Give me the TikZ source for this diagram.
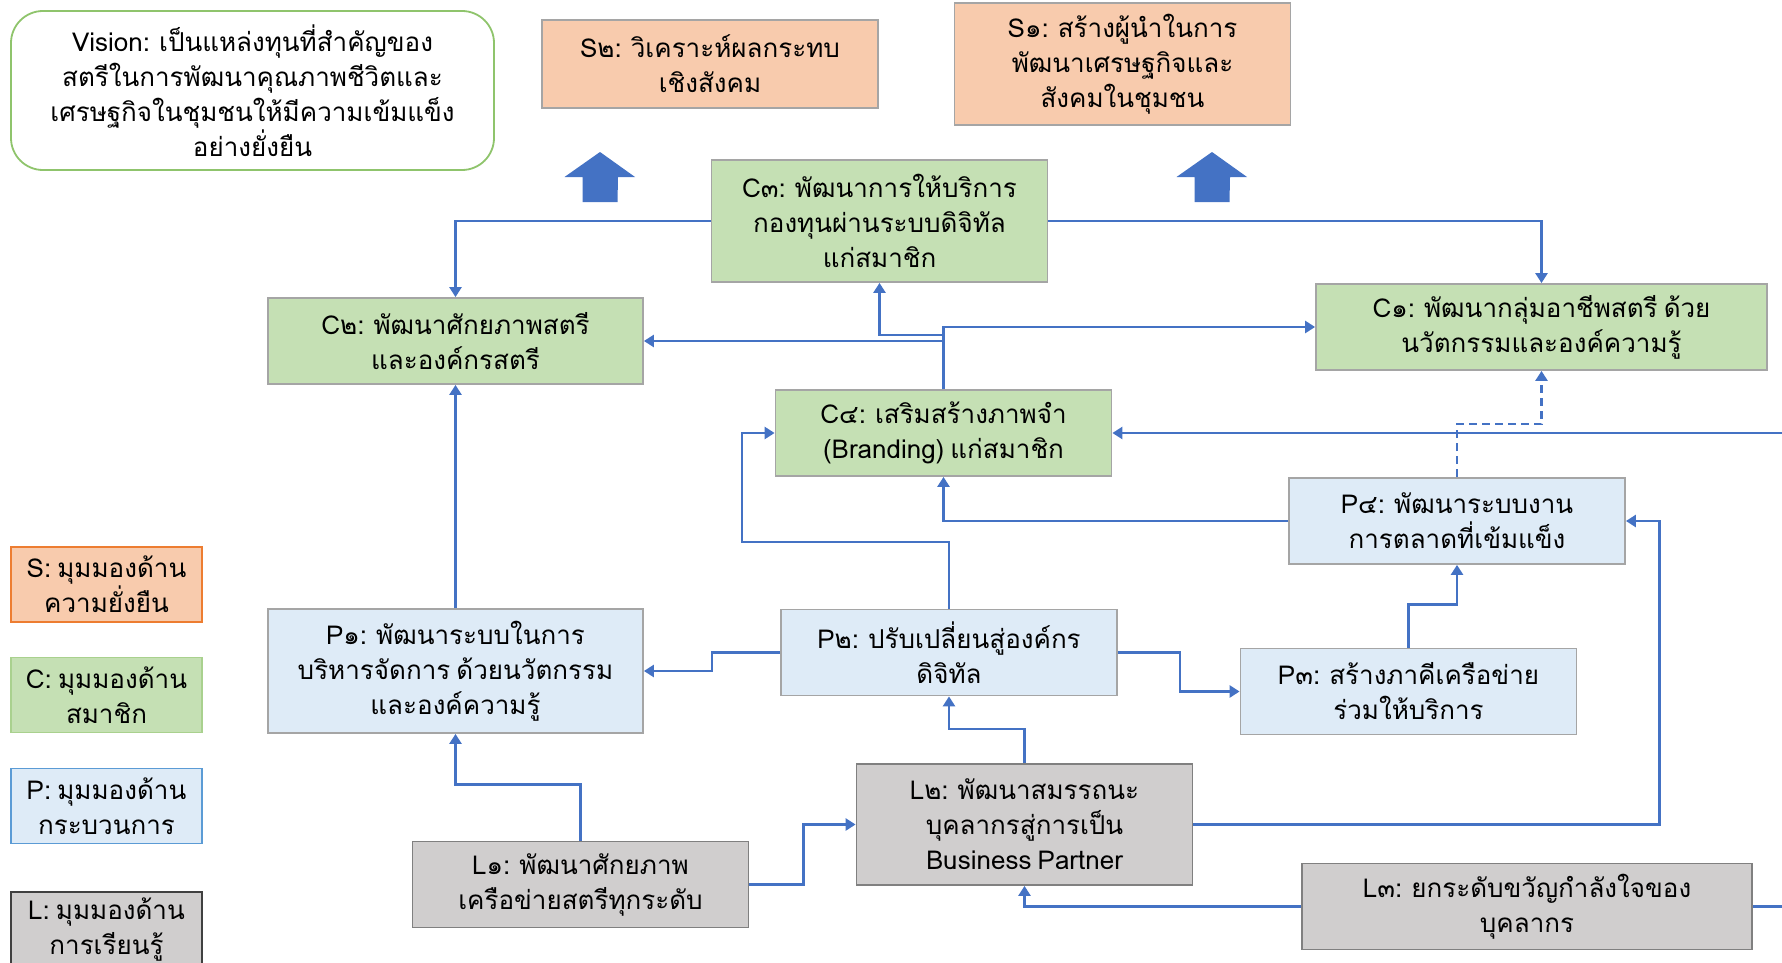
\documentclass[tikz,border=0pt]{standalone}
\usepackage{fontspec}
\newfontfamily\thaifont[Script=Thai,WordSpace=0.7]{Loma}
\usetikzlibrary{arrows.meta}
\definecolor{linkblue}{HTML}{4472C4}
\definecolor{sfill}{HTML}{F8CBAD}
\definecolor{cfill}{HTML}{C5E0B4}
\definecolor{pfill}{HTML}{DEEBF7}
\definecolor{lfill}{HTML}{D0CECE}
\definecolor{boxgray}{HTML}{A5A5A5}
\definecolor{lgray}{HTML}{808080}
\definecolor{sline}{HTML}{ED7D31}
\definecolor{cline}{HTML}{A9D18E}
\definecolor{pline}{HTML}{5B9BD5}
\definecolor{visline}{HTML}{8FC46C}

\begin{document}
\begin{tikzpicture}[x=0.5pt,y=-0.5pt,
	box/.style={draw=boxgray,line width=0.9pt,align=center,inner sep=0pt,minimum width=168pt,minimum height=43pt,yshift=0pt,font=\thaifont\fontsize{13}{17.5}\selectfont},
	sbox/.style={box,fill=sfill},
	cbox/.style={box,fill=cfill},
	pbox/.style={box,fill=pfill},
	lbox/.style={box,fill=lfill,draw=lgray},
	link/.style={linkblue,line width=1.3pt,-{Triangle[width=6pt,length=5pt]}}]
		\useasboundingbox (0,0) rectangle (1782,963);
		\node[box,draw=visline,rounded corners=16pt,minimum width=241.5pt,minimum height=79.5pt] (vision) at (252.5,90.5) {Vision: เป็นแหล่งทุนที่สำคัญของ\\สตรีในการพัฒนาคุณภาพชีวิตและ\\เศรษฐกิจในชุมชนให้มีความเข้มแข็ง\\อย่างยั่งยืน};
		\node[sbox,minimum height=44pt] (s2) at (710,64) {S๒: วิเคราะห์ผลกระทบ\\เชิงสังคม};
		\node[sbox,minimum height=61pt] (s1) at (1122.5,64) {S๑: สร้างผู้นำในการ\\พัฒนาเศรษฐกิจและ\\สังคมในชุมชน};
		\foreach \x in {600,1212} \fill[linkblue] (\x-17.5,202) -- ++(0,-25) -- ++(-18,0) -- (\x,152) -- (\x+35,177) -- ++(-17,0) -- (\x+17.5,202) -- cycle;
		\node[cbox,minimum height=61pt] (c3) at (879.5,221) {C๓: พัฒนาการให้บริการ\\กองทุนผ่านระบบดิจิทัล\\แก่สมาชิก};
		\node[cbox,minimum width=187.5pt] (c2) at (455.5,341) {C๒: พัฒนาศักยภาพสตรี\\และองค์กรสตรี};
		\node[cbox,minimum width=225.5pt] (c1) at (1541.5,327) {C๑: พัฒนากลุ่มอาชีพสตรี ด้วย\\นวัตกรรมและองค์ความรู้};
		\node[cbox] (c4) at (943.5,433) {C๔: เสริมสร้างภาพจำ\\(Branding) แก่สมาชิก};
		\node[pbox] (p4) at (1457,521) {P๔: พัฒนาระบบงาน\\การตลาดที่เข้มแข็ง};
		\node[pbox,minimum width=187.5pt,minimum height=62pt] (p1) at (455.5,671) {P๑: พัฒนาระบบในการ\\บริหารจัดการ ด้วยนวัตกรรม\\และองค์ความรู้};
		\node[pbox] (p2) at (949,652.5) {P๒: ปรับเปลี่ยนสู่องค์กร\\ดิจิทัล};
		\node[pbox] (p3) at (1408.5,691.5) {P๓: สร้างภาคีเครือข่าย\\ร่วมให้บริการ};
		\node[lbox,minimum height=60.5pt] (l2) at (1024.5,824.5) {L๒: พัฒนาสมรรถนะ\\บุคลากรสู่การเป็น\\Business Partner};
		\node[lbox] (l1) at (580.5,884.5) {L๑: พัฒนาศักยภาพ\\เครือข่ายสตรีทุกระดับ};
		\node[lbox,minimum width=225pt] (l3) at (1527,906.5) {L๓: ยกระดับขวัญกำลังใจของ\\บุคลากร};
		\foreach \n/\y/\f/\d/\t in {s/584.5/sfill/sline/ความยั่งยืน,c/695/cfill/cline/สมาชิก,p/806/pfill/pline/กระบวนการ,l/929.5/lfill/darkgray/การเรียนรู้} \node[box,fill=\f,draw=\d,minimum width=95.5pt,minimum height=37.5pt] (leg-\n) at (106.5,\y) {\MakeUppercase{\n}: มุมมองด้าน\\\t};
		\draw[link] (c3.west) -| (c2.north);
		\draw[link] (c3.east) -| (c1.north);
		\draw[link] (c4.north) |- (c1.west);
		\draw[link] (c4.north) |- (c2.east);
		\draw[link] (c4.north) -- ++(0,-54) -| (c3.south);
		\draw[link] (p4.west) -| (c4.south);
		\draw[link] (l3.east) -- ++(60,0) |- (c4.east);
		\draw[link,dash pattern=on 4pt off 2.5pt] (p4.north) -- ++(0,-53) -| (c1.south);
		\draw[link] (p2.north) |- (742,542) |- (c4.west);
		\draw[link] (p2.west) -- ++(-68,0) |- (p1.east);
		\draw[link] (p2.east) -- ++(62,0) |- (p3.west);
		\draw[link] (p3.north) -- ++(0,-43) -| (p4.south);
		\draw[link] (p1.north) -- (c2.south);
		\draw[link] (l1.north) -- ++(0,-56) -| (p1.south);
		\draw[link] (l1.east) -- ++(54,0) |- (l2.west);
		\draw[link] (l2.north) -- ++(0,-34) -| (p2.south);
		\draw[link] (l2.east) -- ++(466,0) |- (p4.east);
		\draw[link] (l3.west) -| (l2.south);
	\end{tikzpicture}
\end{document}
